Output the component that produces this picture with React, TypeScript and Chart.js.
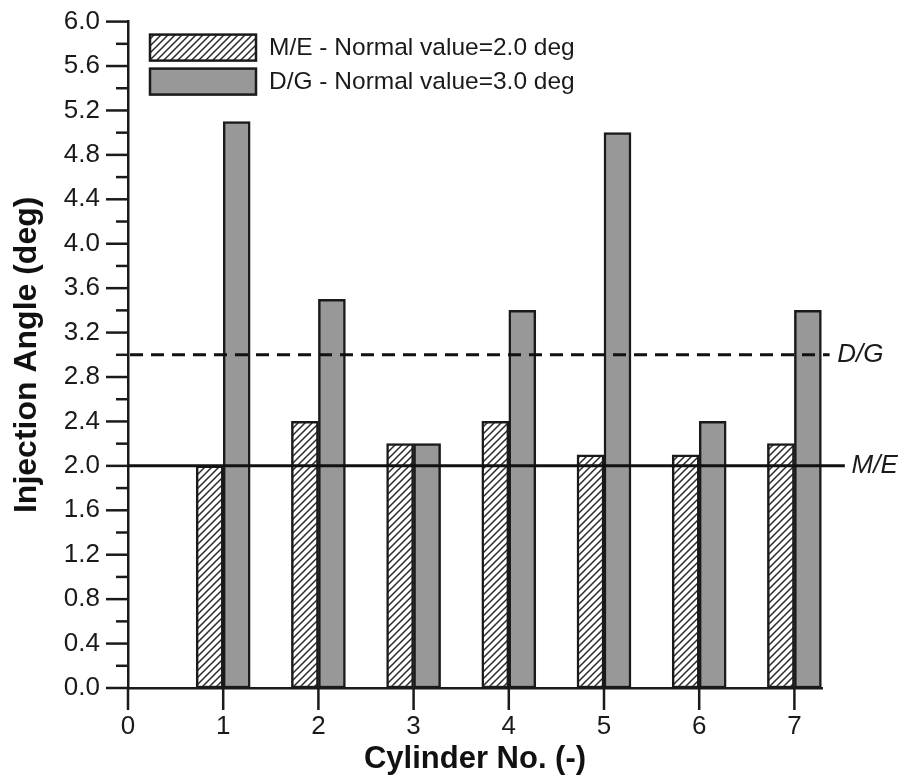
import React, { useEffect, useRef } from 'react';
import { Chart, registerables } from 'chart.js';

Chart.register(...registerables);

// ---- data ----
const cylinders = [1, 2, 3, 4, 5, 6, 7];
const meValues = [2.0, 2.4, 2.2, 2.4, 2.1, 2.1, 2.2];
const dgValues = [5.1, 3.5, 2.2, 3.4, 5.0, 2.4, 3.4];
const xTickValues = [0, 1, 2, 3, 4, 5, 6, 7];
const yMin = 0;
const yMax = 6;
const yMinorStep = 0.2;
const meNormal = 2.0;
const dgNormal = 3.0;
const meLegend = 'M/E - Normal value=2.0 deg';
const dgLegend = 'D/G - Normal value=3.0 deg';
const meLineLabel = 'M/E';
const dgLineLabel = 'D/G';
const xTitle = 'Cylinder No. (-)';
const yTitle = 'Injection Angle (deg)';

const FONT = '"Liberation Sans", Arial, Helvetica, sans-serif';
const INK = '#1a1a1a';
const GRAY = '#989898';

function makeHatch(): CanvasPattern | string {
  const s = 7;
  const c = document.createElement('canvas');
  c.width = s;
  c.height = s;
  const g = c.getContext('2d');
  if (!g) return '#fff';
  g.fillStyle = '#ffffff';
  g.fillRect(0, 0, s, s);
  g.strokeStyle = '#2a2a2a';
  g.lineWidth = 1.5;
  g.beginPath();
  g.moveTo(-1, 1); g.lineTo(1, -1);
  g.moveTo(0, s); g.lineTo(s, 0);
  g.moveTo(s - 1, s + 1); g.lineTo(s + 1, s - 1);
  g.stroke();
  return g.createPattern(c, 'repeat') || '#fff';
}

const decorPlugin = {
  id: 'decor',
  afterDatasetsDraw(chart: any) {
    const { ctx, chartArea } = chart;
    const x = chart.scales.x;
    const y = chart.scales.y;
    ctx.save();

    // reference lines
    ctx.strokeStyle = '#111';
    ctx.lineWidth = 3;
    const yMe = y.getPixelForValue(meNormal);
    ctx.beginPath();
    ctx.moveTo(chartArea.left, yMe);
    ctx.lineTo(x.getPixelForValue(7.53), yMe);
    ctx.stroke();

    const yDg = y.getPixelForValue(dgNormal);
    ctx.setLineDash([13, 8]);
    ctx.beginPath();
    ctx.moveTo(chartArea.left + 2, yDg);
    ctx.lineTo(x.getPixelForValue(7.37), yDg);
    ctx.stroke();
    ctx.setLineDash([]);

    ctx.fillStyle = INK;
    ctx.font = `italic 26px ${FONT}`;
    ctx.textAlign = 'left';
    ctx.textBaseline = 'middle';
    ctx.fillText(dgLineLabel, x.getPixelForValue(7.45), yDg);
    ctx.fillText(meLineLabel, x.getPixelForValue(7.6), yMe);

    // axis ticks
    ctx.strokeStyle = INK;
    ctx.lineWidth = 2.5;
    const nY = Math.round((yMax - yMin) / yMinorStep);
    for (let k = 0; k <= nY; k++) {
      const v = yMin + k * yMinorStep;
      const py = y.getPixelForValue(v);
      const len = k % 2 === 0 ? 22 : 12;
      ctx.beginPath();
      ctx.moveTo(chartArea.left - len, py);
      ctx.lineTo(chartArea.left, py);
      ctx.stroke();
    }
    for (const v of xTickValues) {
      const px = x.getPixelForValue(v);
      ctx.beginPath();
      ctx.moveTo(px, chartArea.bottom);
      ctx.lineTo(px, chartArea.bottom + 22);
      ctx.stroke();
    }

    // legend
    const ds = chart.data.datasets;
    const bx = chartArea.left + 22;
    const bw = 106;
    const bh = 26;
    const tops = [chartArea.top + 13, chartArea.top + 47];
    const labels = [meLegend, dgLegend];
    ctx.font = `24.5px ${FONT}`;
    for (let i = 0; i < 2; i++) {
      ctx.fillStyle = ds[i].backgroundColor;
      ctx.fillRect(bx, tops[i], bw, bh);
      ctx.strokeStyle = INK;
      ctx.lineWidth = 2.5;
      ctx.strokeRect(bx, tops[i], bw, bh);
      ctx.fillStyle = INK;
      ctx.textBaseline = 'middle';
      ctx.fillText(labels[i], bx + bw + 13, tops[i] + bh / 2 + 1);
    }
    ctx.restore();
  },
};

export default function App() {
  const ref = useRef<HTMLCanvasElement | null>(null);

  useEffect(() => {
    document.body.style.margin = '0';
    const canvas = ref.current;
    if (!canvas) return;
    const hatch = makeHatch();

    const chart = new Chart(canvas, {
      type: 'bar',
      data: {
        datasets: [
          {
            label: meLegend,
            data: cylinders.map((c, i) => ({ x: c, y: meValues[i] })),
            backgroundColor: hatch as any,
            borderColor: INK,
            borderWidth: 2.5,
            borderSkipped: false,
            barThickness: 27,
          },
          {
            label: dgLegend,
            data: cylinders.map((c, i) => ({ x: c, y: dgValues[i] })),
            backgroundColor: GRAY,
            borderColor: INK,
            borderWidth: 2.5,
            borderSkipped: false,
            barThickness: 27,
          },
        ],
      },
      options: {
        responsive: false,
        animation: false,
        devicePixelRatio: 1,
        layout: { padding: { top: 20, right: 77, left: 0, bottom: 0 } },
        plugins: {
          legend: { display: false },
          tooltip: { enabled: false },
        },
        scales: {
          x: {
            type: 'linear',
            min: 0,
            max: 7.29,
            offset: false,
            grid: { display: false, drawTicks: true, tickLength: 22, offset: false },
            border: { display: true, color: INK, width: 2.5 },
            ticks: {
              stepSize: 1,
              includeBounds: false,
              autoSkip: false,
              maxRotation: 0,
              padding: 1,
              color: INK,
              font: { family: FONT, size: 26 },
              callback: (v: any) => String(v),
            },
            title: {
              display: true,
              text: xTitle,
              color: '#111',
              font: { family: FONT, size: 31, weight: 'bold' },
              padding: { top: 0, bottom: 0 },
            },
            afterFit: (s: any) => { s.height = 90; },
          },
          y: {
            type: 'linear',
            min: yMin,
            max: yMax,
            grid: { display: false, drawTicks: true, tickLength: 22 },
            border: { display: true, color: INK, width: 2.5 },
            ticks: {
              stepSize: yMinorStep,
              autoSkip: false,
              padding: 6,
              color: INK,
              font: { family: FONT, size: 26 },
              callback: (v: any) => {
                const k = Math.round(Number(v) / yMinorStep);
                return k % 2 === 0 ? Number(v).toFixed(1) : '';
              },
            },
            title: {
              display: true,
              text: yTitle,
              color: '#111',
              font: { family: FONT, size: 32, weight: 'bold' },
              padding: { top: 8, bottom: 0 },
            },
            afterFit: (s: any) => { s.width = 128; },
          },
        },
      } as any,
      plugins: [decorPlugin],
    });

    return () => chart.destroy();
  }, []);

  return (
    <div style={{ width: 899, height: 778 }}>
      <canvas ref={ref} width={899} height={778} style={{ display: 'block', width: 899, height: 778 }} />
    </div>
  );
}
